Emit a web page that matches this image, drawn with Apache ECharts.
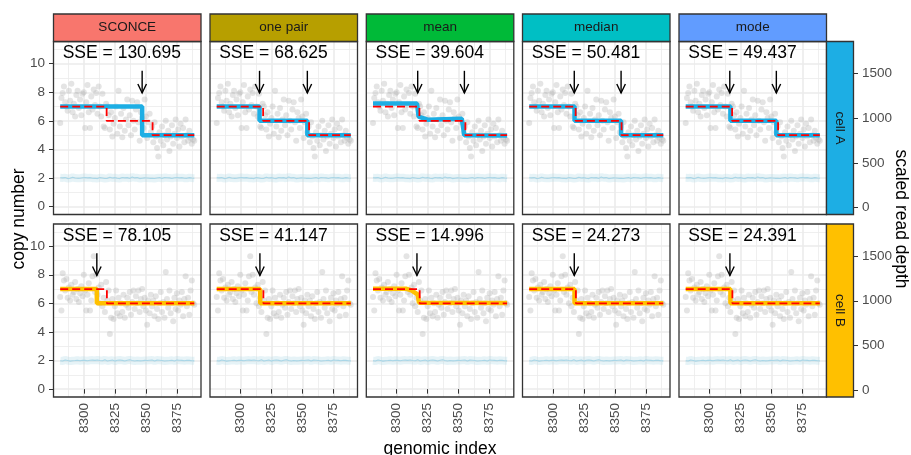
<!DOCTYPE html>
<html>
<head>
<meta charset="utf-8">
<title>copy number fits</title>
<script src="https://cdn.jsdelivr.net/npm/echarts@6/dist/echarts.min.js"></script>
<style>html,body{margin:0;padding:0;background:#fff;}</style>
</head>
<body>
<div id="main" style="width:911px;height:455px;"></div>
<script>
// facets
var methods = ['SCONCE', 'one pair', 'mean', 'median', 'mode'];
var methodColors = ['#F8766D', '#B79F00', '#00BA38', '#00BFC4', '#619CFF'];
var cells = ['cell A', 'cell B'];
var cellColors = ['#1DAEE4', '#FFC000'];

// axes
var xStart = 8281;
var xTicks = [8300, 8325, 8350, 8375];
var xMinor = [8287.5, 8312.5, 8337.5, 8362.5, 8387.5];
var yTicks = [0, 2, 4, 6, 8, 10];
var yMinor = [1, 3, 5, 7, 9, 11];
var rdTicks = [0, 500, 1000, 1500];

// observed copy number, one value per genomic index from 8281
var cnA = [
  5.85, 7.6, 7.95, 8.4, 7.3, 7.0, 6.7, 8.1, 7.4, 8.6,
  6.6, 7.2, 6.3, 7.8, 8.1, 6.9, 7.5, 6.4, 7.9, 8.0,
  5.5, 7.3, 8.5, 6.6, 5.5, 7.7, 6.8, 8.2, 7.1, 7.95,
  6.5, 8.4, 7.0, 6.3, 7.9, 5.6, 5.5, 7.2, 7.0, 6.4,
  5.4, 6.6, 4.9, 5.8, 6.2, 7.0, 5.1, 8.1, 5.6, 6.5,
  4.85, 6.9, 5.3, 6.1, 7.5, 5.7, 6.4, 5.0, 7.4, 6.0,
  5.4, 6.8, 7.3, 5.9, 4.6, 6.6, 6.2, 5.5, 7.5, 6.3,
  4.8, 5.9, 6.5, 5.2, 5.6, 4.5, 5.9, 4.9, 4.1, 3.5,
  5.2, 4.6, 5.6, 4.3, 5.0, 6.0, 4.7, 5.3, 3.9, 4.9,
  5.7, 4.4, 5.1, 6.1, 4.8, 5.4, 4.2, 5.8, 4.9, 5.5,
  4.5, 6.1, 5.0, 4.6, 5.3, 4.8, 4.4, 4.7, 4.6
];
var cnB = [
  6.45, 5.5, 8.1, 7.6, 6.9, 7.7, 6.4, 7.1, 6.2, 7.3,
  6.6, 6.8, 7.5, 6.3, 7.0, 6.1, 6.7, 7.2, 6.5, 8.0,
  6.9, 5.5, 6.6, 7.4, 5.5, 6.2, 7.9, 9.3, 6.8, 8.0,
  6.6, 7.1, 6.0, 7.3, 5.8, 6.4, 5.4, 7.5, 6.2, 6.9,
  3.85, 5.0, 6.3, 4.9, 5.8, 6.9, 5.3, 6.4, 5.1, 6.0,
  5.4, 6.6, 5.0, 5.9, 6.4, 5.7, 6.8, 5.2, 6.1, 6.9,
  5.6, 6.5, 6.0, 6.9, 5.4, 6.3, 7.0, 5.8, 6.4, 5.5,
  4.5, 6.2, 5.3, 6.6, 5.8, 6.2, 5.1, 6.5, 5.6, 4.9,
  6.0, 6.8, 5.4, 6.1, 5.0, 8.2, 6.3, 5.7, 6.9, 5.3,
  6.0, 4.75, 6.4, 5.6, 6.7, 5.5, 6.2, 5.9, 6.8, 5.1,
  6.3, 7.9, 5.8, 6.4, 5.2, 6.9, 7.6, 6.0, 5.9
];

// diploid reference track
var baseA = [
  2.02, 1.98, 2.01, 1.97, 2.03, 2.00, 1.96, 2.04, 1.99, 2.01,
  2.05, 1.97, 2.00, 2.02, 1.98, 2.03, 1.99, 1.95, 2.02, 2.00,
  2.04, 1.98, 2.01, 1.97, 2.03, 2.00, 1.99, 2.05, 1.98, 2.02,
  1.96, 2.01, 2.03, 1.99, 2.00, 2.04, 1.97, 2.02, 1.98, 2.01,
  2.06, 1.99, 2.00, 1.97, 2.03, 2.01, 1.98, 2.02, 1.96, 2.00,
  2.04, 1.99, 2.01, 1.98, 2.03, 2.00, 1.97, 2.02, 2.08, 1.99,
  2.01, 1.98, 2.03, 2.00, 1.96, 2.02, 1.99, 2.04, 2.01, 1.97,
  2.00, 2.03, 1.98, 2.01, 1.99, 2.05, 1.97, 2.02, 2.00, 1.98,
  2.03, 2.01, 1.96, 2.00, 2.04, 1.99, 2.02, 1.98, 2.01, 2.03,
  1.97, 2.00, 2.02, 1.99, 2.04, 1.98, 2.01, 1.97, 2.03, 2.00,
  1.99, 2.02, 1.98, 2.01, 2.03, 1.97, 2.00, 2.02, 1.99
];
var baseB = [
  1.99, 2.02, 1.97, 2.01, 2.04, 1.98, 2.00, 2.03, 1.96, 2.01,
  1.99, 2.03, 2.00, 1.97, 2.02, 2.05, 1.98, 2.00, 2.02, 1.97,
  2.01, 2.04, 1.99, 1.96, 2.02, 2.00, 2.03, 1.98, 2.01, 1.99,
  2.04, 1.97, 2.00, 2.02, 1.98, 2.01, 2.05, 1.99, 1.97, 2.02,
  2.00, 1.98, 2.03, 2.01, 1.96, 2.00, 2.02, 1.99, 2.04, 1.98,
  2.01, 2.03, 1.97, 2.00, 2.02, 1.99, 2.05, 1.98, 2.00, 2.03,
  1.97, 2.01, 2.00, 2.04, 1.98, 2.02, 1.99, 1.96, 2.01, 2.03,
  2.00, 1.98, 2.02, 1.99, 2.04, 2.01, 1.97, 2.00, 2.03, 1.99,
  2.02, 1.98, 2.00, 2.05, 1.97, 2.01, 1.99, 2.03, 2.00, 1.98,
  2.02, 2.01, 1.97, 2.00, 2.04, 1.99, 2.02, 1.98, 2.01, 2.03,
  1.99, 2.00, 2.02, 1.97, 2.01, 2.03, 1.99, 2.00, 1.98
];

// inferred copy number per method (vertices)
var fitA = [
  [[8281, 7], [8347, 7], [8347, 5], [8389, 5]],
  [[8281, 7], [8315.5, 7], [8315.5, 6], [8354, 6], [8354, 5], [8389, 5]],
  [[8281, 7.22], [8316.4, 7.22], [8317.7, 6.3], [8325, 6.08], [8338, 6.12], [8352.5, 6.15], [8354.5, 5.0], [8389, 4.98]],
  [[8281, 7], [8317.5, 7], [8317.5, 6], [8355, 6], [8355, 5], [8389, 5]],
  [[8281, 7], [8317, 7], [8317, 6], [8354, 6], [8354, 5], [8389, 5]]
];
var fitB = [
  [[8281, 7], [8310.5, 7], [8310.5, 6], [8389, 6]],
  [[8281, 7], [8316, 7], [8316, 6], [8389, 6]],
  [[8281, 7.02], [8308, 7.02], [8312, 6.9], [8317, 6.62], [8318, 6.05], [8389, 6.02]],
  [[8281, 7], [8317.5, 7], [8317.5, 6], [8389, 6]],
  [[8281, 7], [8317, 7], [8317, 6], [8389, 6]]
];
// true copy number
var truthA = [[8281, 7], [8318.4, 7], [8318.4, 6], [8355.4, 6], [8355.4, 5], [8389, 5]];
var truthB = [[8281, 7], [8318.6, 7], [8318.6, 6], [8389, 6]];

// detected breakpoints
var arrowsA = [[8347], [8315.5, 8354], [8317, 8354.6], [8317.3, 8355], [8316.5, 8354]];
var arrowsB = [[8310.5], [8315.8], [8316.4], [8317.3], [8316.6]];
var arrowTop = 9.5, arrowTip = 7.95;

var sseA = ['130.695', '68.625', '39.604', '50.481', '49.437'];
var sseB = ['78.105', '41.147', '14.996', '24.273', '24.391'];

// layout
var font = '"Liberation Sans", Arial, sans-serif';
var colLeft = [53.5, 210, 366.3, 522.5, 679];
var rowTop = [41.5, 224];
var panelW = 147.5, panelH = 173;
var stripH = 27.5, stripW = 27;
var xMin = 8275.6, xMax = 8394.4;
var yMin = -0.55, yMax = 11.55;
var rdMin = -76.8, rdMax = 1859.2;

var grids = [], xAxes = [], yAxes = [], series = [], graphics = [];

function pts(arr) {
  return arr.map(function (v, i) { return [xStart + i, v]; });
}
function plain(v) { return String(v); }

function arrowItem(params, api) {
  var top = api.coord([api.value(0), api.value(1)]);
  var tip = api.coord([api.value(0), api.value(2)]);
  var h = 9, w = 4.3;
  return {
    type: 'group',
    children: [
      { type: 'line', shape: { x1: top[0], y1: top[1], x2: tip[0], y2: tip[1] },
        style: { stroke: '#000', lineWidth: 1.4 } },
      { type: 'polyline', shape: { points: [[tip[0] - w, tip[1] - h], [tip[0], tip[1]], [tip[0] + w, tip[1] - h]] },
        style: { stroke: '#000', lineWidth: 1.4, fill: null } }
    ]
  };
}

for (var r = 0; r < 2; r++) {
  for (var c = 0; c < 5; c++) {
    var g = r * 5 + c;
    grids.push({ left: colLeft[c], top: rowTop[r], width: panelW, height: panelH });

    xAxes.push({
      type: 'value', gridIndex: g, min: xMin, max: xMax,
      axisLine: { show: false },
      axisTick: { show: r === 1, customValues: xTicks, length: 4.5, lineStyle: { color: '#333', width: 1 } },
      axisLabel: { show: r === 1, customValues: xTicks, rotate: 90, margin: 6, formatter: plain,
        color: '#4D4D4D', fontSize: 13.5, fontFamily: font },
      splitLine: { show: true, lineStyle: { color: '#EBEBEB', width: 1.6 } }
    });
    xAxes.push({
      type: 'value', gridIndex: g, min: xMin, max: xMax,
      axisLine: { show: false },
      axisTick: { show: false, customValues: xMinor },
      axisLabel: { show: false },
      splitLine: { show: true, lineStyle: { color: '#EBEBEB', width: 0.8 } }
    });
    yAxes.push({
      type: 'value', gridIndex: g, min: yMin, max: yMax,
      axisLine: { show: false },
      axisTick: { show: c === 0, customValues: yTicks, length: 4.5, lineStyle: { color: '#333', width: 1 } },
      axisLabel: { show: c === 0, customValues: yTicks, margin: 8.5, formatter: plain,
        color: '#4D4D4D', fontSize: 13.5, fontFamily: font },
      splitLine: { show: true, lineStyle: { color: '#EBEBEB', width: 1.6 } }
    });
    yAxes.push({
      type: 'value', gridIndex: g, min: yMin, max: yMax,
      axisLine: { show: false },
      axisTick: { show: false, customValues: yMinor },
      axisLabel: { show: false },
      splitLine: { show: true, lineStyle: { color: '#EBEBEB', width: 0.8 } }
    });

    var xi = 2 * g, yi = 2 * g;
    var cn = r === 0 ? cnA : cnB;
    var base = r === 0 ? baseA : baseB;
    var fit = (r === 0 ? fitA : fitB)[c];
    var truth = r === 0 ? truthA : truthB;
    var arrows = (r === 0 ? arrowsA : arrowsB)[c];
    var sse = (r === 0 ? sseA : sseB)[c];

    series.push({
      type: 'line', xAxisIndex: xi, yAxisIndex: yi, data: pts(base), showSymbol: false, silent: true,
      lineStyle: { color: 'rgba(173,216,230,0.3)', width: 8 }, z: 1
    });
    series.push({
      type: 'line', xAxisIndex: xi, yAxisIndex: yi, data: pts(base), showSymbol: false, silent: true,
      lineStyle: { color: '#A9D6E7', width: 1.1 }, z: 2
    });
    series.push({
      type: 'scatter', xAxisIndex: xi, yAxisIndex: yi, data: pts(cn), symbolSize: 6, silent: true,
      itemStyle: { color: 'rgba(180,180,180,0.45)' }, z: 3
    });
    series.push({
      type: 'line', xAxisIndex: xi, yAxisIndex: yi, data: fit, showSymbol: false, silent: true,
      lineStyle: { color: cellColors[r], width: 4.5 }, z: 4
    });
    series.push({
      type: 'line', xAxisIndex: xi, yAxisIndex: yi, data: truth, showSymbol: false, silent: true,
      lineStyle: { color: '#FF0000', width: 1.8, type: [8, 4] }, z: 5
    });
    series.push({
      type: 'custom', xAxisIndex: xi, yAxisIndex: yi, silent: true, z: 6,
      data: arrows.map(function (x) { return [x, arrowTop, arrowTip]; }),
      renderItem: arrowItem
    });
    series.push({
      type: 'custom', xAxisIndex: xi, yAxisIndex: yi, silent: true, z: 7,
      data: [[8283, 10.7]],
      renderItem: (function (txt) {
        return function (params, api) {
          var p = api.coord([api.value(0), api.value(1)]);
          return { type: 'text', x: p[0], y: p[1],
            style: { text: 'SSE = ' + txt, fontSize: 17.5, fontFamily: font, fill: '#000',
              align: 'left', verticalAlign: 'middle' } };
        };
      })(sse)
    });

    // panel border
    graphics.push({
      type: 'rect', z: 100, silent: true,
      shape: { x: colLeft[c], y: rowTop[r], width: panelW, height: panelH },
      style: { fill: null, stroke: '#333333', lineWidth: 1.3 }
    });
  }
}

// right axis: scaled read depth
[4, 9].forEach(function (g) {
  yAxes.push({
    type: 'value', gridIndex: g, position: 'right', offset: stripW, min: rdMin, max: rdMax,
    axisLine: { show: false },
    axisTick: { show: true, customValues: rdTicks, length: 4.5, lineStyle: { color: '#333', width: 1 } },
    axisLabel: { show: true, customValues: rdTicks, margin: 8.5, formatter: plain,
      color: '#4D4D4D', fontSize: 13.5, fontFamily: font },
    splitLine: { show: false }
  });
});

// top strips
methods.forEach(function (m, c) {
  graphics.push({
    type: 'rect', z: 100, silent: true,
    shape: { x: colLeft[c], y: rowTop[0] - stripH, width: panelW, height: stripH },
    style: { fill: methodColors[c], stroke: '#333333', lineWidth: 1.3 }
  });
  graphics.push({
    type: 'text', z: 101, silent: true, x: colLeft[c] + panelW / 2, y: rowTop[0] - stripH / 2,
    style: { text: m, fontSize: 13.5, fontFamily: font, fill: '#1A1A1A', align: 'center', verticalAlign: 'middle' }
  });
});
// right strips
cells.forEach(function (cl, r) {
  var x0 = colLeft[4] + panelW;
  graphics.push({
    type: 'rect', z: 100, silent: true,
    shape: { x: x0, y: rowTop[r], width: stripW, height: panelH },
    style: { fill: cellColors[r], stroke: '#333333', lineWidth: 1.3 }
  });
  graphics.push({
    type: 'text', z: 101, silent: true, x: x0 + stripW / 2, y: rowTop[r] + panelH / 2, rotation: -Math.PI / 2,
    style: { text: cl, fontSize: 13.5, fontFamily: font, fill: '#1A1A1A', align: 'center', verticalAlign: 'middle' }
  });
});
// axis titles
graphics.push({
  type: 'text', silent: true, x: 19, y: 219, rotation: Math.PI / 2,
  style: { text: 'copy number', fontSize: 17.5, fontFamily: font, fill: '#000', align: 'center', verticalAlign: 'middle' }
});
graphics.push({
  type: 'text', silent: true, x: 901, y: 219, rotation: -Math.PI / 2,
  style: { text: 'scaled read depth', fontSize: 17.5, fontFamily: font, fill: '#000', align: 'center', verticalAlign: 'middle' }
});
graphics.push({
  type: 'text', silent: true, x: 440, y: 449,
  style: { text: 'genomic index', fontSize: 17.5, fontFamily: font, fill: '#000', align: 'center', verticalAlign: 'middle' }
});

var myChart = echarts.init(document.getElementById('main'));
myChart.setOption({
  animation: false,
  backgroundColor: '#fff',
  grid: grids,
  xAxis: xAxes,
  yAxis: yAxes,
  series: series,
  graphic: graphics
});
</script>
</body>
</html>
